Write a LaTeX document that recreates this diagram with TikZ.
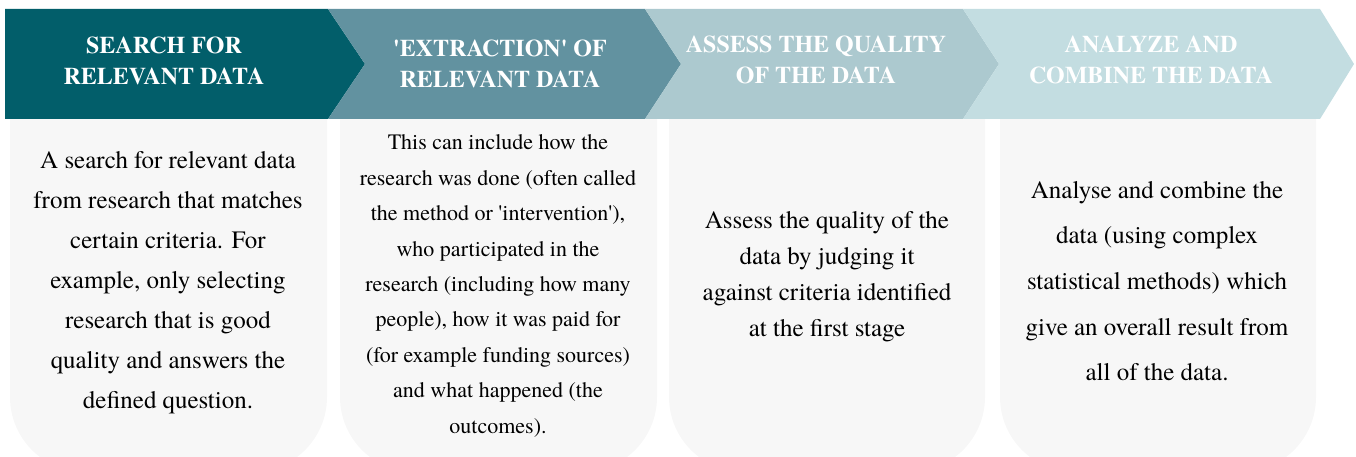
\documentclass[tikz,border=0pt]{standalone}
\usepackage{fontspec}
\setmainfont{texgyretermes}[Extension=.otf, UprightFont=*-regular, BoldFont=*-bold]
\usepackage{tikz}
\usetikzlibrary{positioning}
\definecolor{tealA}{HTML}{025E6A}
\definecolor{tealB}{HTML}{6292A0}
\definecolor{tealC}{HTML}{ACC9CF}
\definecolor{tealD}{HTML}{C3DDE1}
\definecolor{cardgray}{HTML}{F7F7F7}
\newcommand{\sq}{\textquotesingle}

\begin{document}
\begin{tikzpicture}[x=1pt,y=-1pt,
    head/.style={text=white,font=\fontsize{24}{31}\selectfont\bfseries,align=center},
    body/.style={text=black,align=center,font=\fontsize{25}{40}\selectfont},
    card/.style={fill=cardgray,rounded corners=75pt}]
  \useasboundingbox (0,0) rectangle (1356,457);
  \clip (0,0) rectangle (1356,457);

  % cards
  \fill[card] (10,110) -- (10,472) -- (327,472) -- (327,110);
  \fill[card] (340,110) -- (340,472) -- (657,472) -- (657,110);
  \fill[card] (669,110) -- (669,472) -- (985,472) -- (985,110);
  \fill[card] (1000,110) -- (1000,472) -- (1316,472) -- (1316,110);

  % chevrons
  \fill[tealA] (5,9) -- (328,9) -- (365,64) -- (328,119) -- (5,119) -- cycle;
  \fill[tealB] (328,9) -- (645,9) -- (681,64) -- (645,119) -- (328,119) -- (365,64) -- cycle;
  \fill[tealC] (645,9) -- (963,9) -- (999,64) -- (963,119) -- (645,119) -- (681,64) -- cycle;
  \fill[tealD] (963,9) -- (1320,9) -- (1354,64) -- (1320,119) -- (963,119) -- (999,64) -- cycle;

  % headers
  \node[head] (search) at (164,61) {SEARCH FOR\\RELEVANT DATA};
  \node[head] (extract) at (500,64) {\sq EXTRACTION\sq\ OF\\RELEVANT DATA};
  \node[head] (assess) at (816,60) {ASSESS THE QUALITY\\OF THE DATA};
  \node[head] (analyse) at (1151,60) {ANALYZE AND\\COMBINE THE DATA};

  % texts
  \node[body] (searchtxt) at (168,283) {A search for relevant data\\from research that matches\\certain criteria. For\\example, only selecting\\research that is good\\quality and answers the\\defined question.};
  \node[body,font=\fontsize{22}{35.4}\selectfont] (extracttxt) at (498,286) {This can include how the\\research was done (often called\\the method or \sq intervention\sq),\\who participated in the\\research (including how many\\people), how it was paid for\\(for example funding sources)\\and what happened (the\\outcomes).};
  \node[body,font=\fontsize{25}{36}\selectfont] (assesstxt) at (827,277) {Assess the quality of the\\data by judging it\\against criteria identified\\at the first stage};
  \node[body,font=\fontsize{25}{45.7}\selectfont] (analysetxt) at (1157,281) {Analyse and combine the\\data (using complex\\statistical methods) which\\give an overall result from\\all of the data.};
\end{tikzpicture}
\end{document}
